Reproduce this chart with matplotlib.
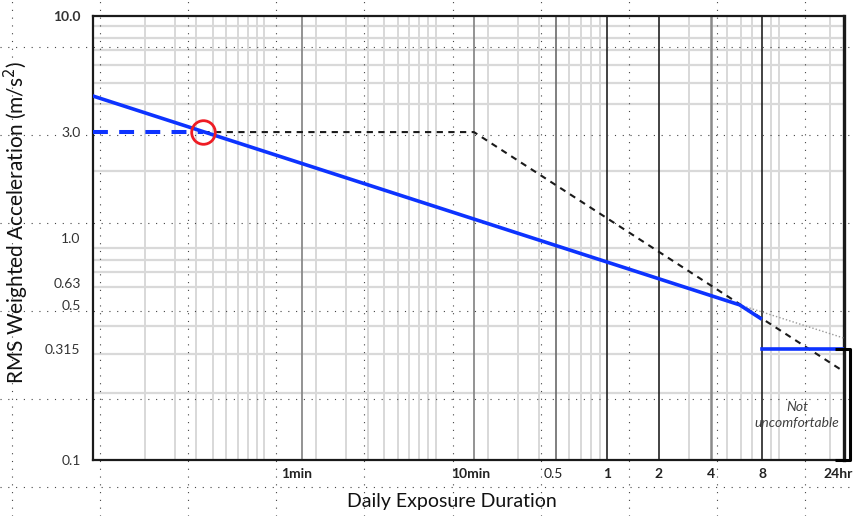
import numpy as np
import matplotlib
matplotlib.use("Agg")
import matplotlib.pyplot as plt
from matplotlib.lines import Line2D
from matplotlib.ticker import FixedLocator, LogLocator, NullFormatter, FixedFormatter
import matplotlib.transforms as mtransforms

# ---------------- data ----------------
x_ticks = [1/60, 10/60, 0.5, 1, 2, 4, 8, 24]          # hours
x_tick_labels = ['1min', '10min', '0.5', '1', '2', '4', '8', '24hr']
y_ticks = [0.1, 0.315, 0.5, 0.63, 1.0, 3.0, 10.0]
y_tick_labels = ['0.1', '0.315', '0.5', '0.63', '1.0', '3.0', '10.0']

blue_curve_x = [0.001, 5.9, 7.8]
blue_curve_y = [4.36, 0.50, 0.435]
blue_flat_x = [8, 24]
blue_flat_y = [0.315, 0.315]
blue_dash_x = [0.001, 0.0044]
blue_dash_y = [3.0, 3.0]
black_dash_x = [0.0044, 10/60, 24]
black_dash_y = [3.0, 3.0, 0.25]
gray_dot_x = [5.9, 24]
gray_dot_y = [0.50, 0.354]
circle_x = [0.0044]
circle_y = [3.0]
bracket_x = [21.3, 26.1, 26.1, 21.3]
bracket_y = [0.315, 0.315, 0.1, 0.1]
note_text = 'Not\nuncomfortable'
note_pos = (12.8, 0.16)

# ---------------- styling ----------------
plt.rcParams['font.family'] = ['Lato', 'DejaVu Sans']
W, H = 855, 516
fig = plt.figure(figsize=(W/100, H/100), dpi=100)
fig.patch.set_facecolor('white')
ax = fig.add_axes([93/W, 1-460/H, (844-93)/W, (460-16)/H])
ax.set_xscale('log')
ax.set_yscale('log')
ax.set_xlim(0.001, 24)
ax.set_ylim(0.1, 10)
ax.set_axisbelow(True)

ax.xaxis.set_major_locator(FixedLocator(x_ticks))
ax.xaxis.set_major_formatter(FixedFormatter(x_tick_labels))
ax.yaxis.set_major_locator(FixedLocator(y_ticks))
ax.yaxis.set_major_formatter(FixedFormatter(y_tick_labels))
ax.xaxis.set_minor_locator(LogLocator(base=10, subs=np.arange(1, 10), numticks=30))
ax.yaxis.set_minor_locator(LogLocator(base=10, subs=np.arange(1, 10), numticks=30))
ax.xaxis.set_minor_formatter(NullFormatter())
ax.yaxis.set_minor_formatter(NullFormatter())
ax.tick_params(which='both', length=0)
ax.tick_params(axis='x', pad=6, labelsize=10, labelcolor='#222222')
ax.tick_params(axis='y', pad=9, labelsize=10, labelcolor='#333333')
ax.grid(False, which='major')
ax.grid(True, which='minor', axis='x', color='#d6d6d6', lw=1.3)
ax.grid(True, which='minor', axis='y', color='#d9d9d9', lw=1.6)

bold_labels = {'10.0', '1min', '10min', '1', '2', '4', '8', '24hr'}
for lab in ax.get_xticklabels() + ax.get_yticklabels():
    if lab.get_text() in bold_labels:
        lab.set_fontweight('bold')
# small leftward nudge of the x tick labels, as in the reference
x_label_shift = [-6, -3, -2, 0, 0, 0, 0, -6]
for lab, dx in zip(ax.get_xticklabels(), x_label_shift):
    lab.set_transform(lab.get_transform() +
                      mtransforms.ScaledTranslation(dx/100, 0, fig.dpi_scale_trans))

# darker vertical lines at labelled times
vline_colors = ['#8a8a8a', '#8a8a8a', '#6a6a6a', '#222222', '#222222', '#8a8a8a', '#222222']
vline_widths = [1.3, 1.3, 1.2, 1.2, 1.2, 1.8, 1.2]
for xv, c, w in zip(x_ticks[:-1], vline_colors, vline_widths):
    ax.axvline(xv, color=c, lw=w, zorder=0.8)

for side in ['left', 'bottom', 'top']:
    ax.spines[side].set_linewidth(1.6)
    ax.spines[side].set_color('#1a1a1a')
ax.spines['right'].set_linewidth(2.4)
ax.spines['right'].set_color('#1a1a1a')

# dotted guide overlay across the whole figure
for xp in np.arange(12, W, 88.1):
    ax.add_line(Line2D([xp/W, xp/W], [0, 1], transform=fig.transFigure, clip_on=False,
                       color='#444444', lw=0.8, ls=(0, (1, 6)), zorder=1))
for yp in np.arange(47, H, 88.0):
    ax.add_line(Line2D([0, 1], [1-yp/H, 1-yp/H], transform=fig.transFigure, clip_on=False,
                       color='#444444', lw=0.8, ls=(0, (1, 6)), zorder=1))

blue = '#0d33ff'
ax.plot(black_dash_x, black_dash_y, color='#1a1a1a', lw=1.5, ls=(0, (3, 2.6)), zorder=3)
ax.plot(gray_dot_x, gray_dot_y, color='#999999', lw=1.0, ls=(0, (1, 1.5)), zorder=3)
ax.plot(blue_curve_x, blue_curve_y, color=blue, lw=2.6, solid_joinstyle='miter', zorder=4)
ax.plot(blue_flat_x, blue_flat_y, color=blue, lw=2.6, zorder=4)
ax.plot(blue_dash_x, blue_dash_y, color=blue, lw=2.9, ls=(0, (3.7, 2.8)), zorder=4)
ax.plot(circle_x, circle_y, 'o', ms=17, mfc='none', mec='#ee1c24', mew=2.0, zorder=5)
ax.plot(bracket_x, bracket_y, color='black', lw=2.2, solid_joinstyle='round',
        solid_capstyle='butt', clip_on=False, zorder=6)
ax.text(note_pos[0], note_pos[1], note_text, style='italic', fontsize=10, color='#404040',
        ha='center', va='center', linespacing=1.4, zorder=6)

ax.set_xlabel('Daily Exposure Duration', fontsize=14, color='#111111')
ax.xaxis.set_label_coords((452-93)/751, -(493-460)/444)
ax.set_ylabel('RMS Weighted Acceleration (m/s$^2$)', fontsize=15, color='#111111')
ax.yaxis.set_label_coords((31-93)/751, (460-222)/444)

fig.savefig('out.png', dpi=100)
